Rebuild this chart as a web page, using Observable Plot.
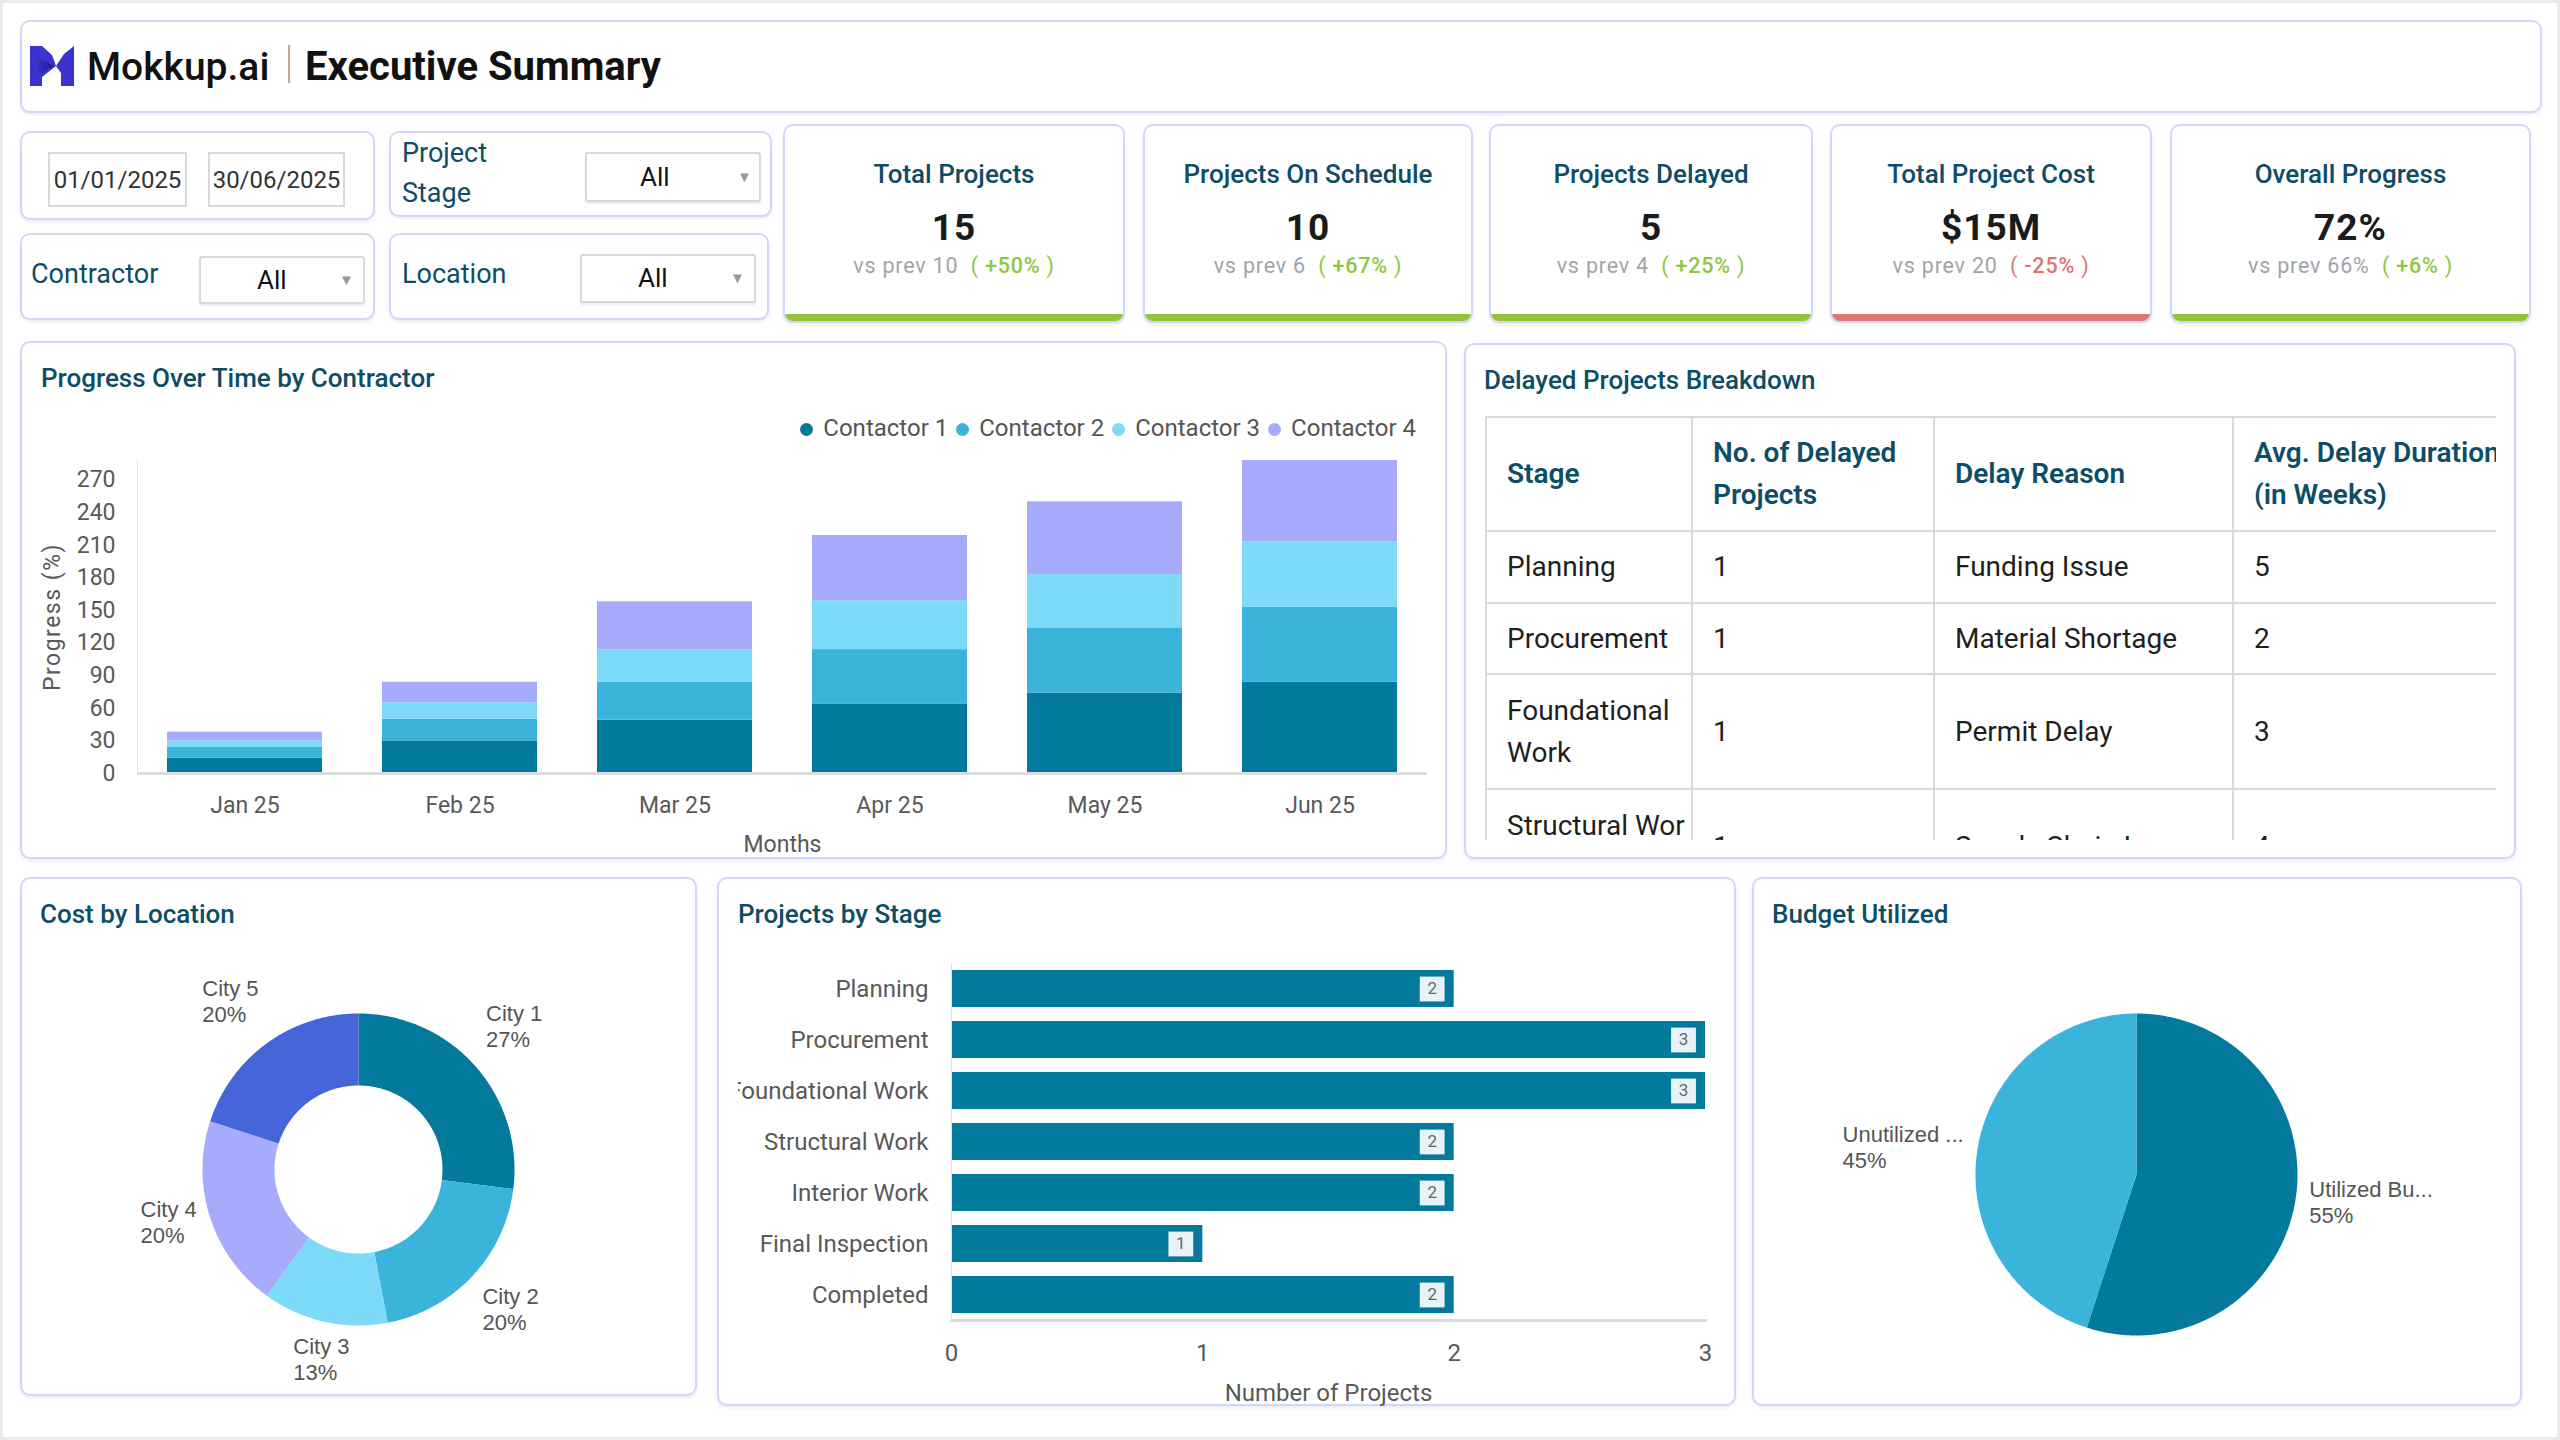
<!DOCTYPE html>
<html><head><meta charset="utf-8">
<script src="https://cdn.jsdelivr.net/npm/d3@7"></script>
<script src="https://cdn.jsdelivr.net/npm/@observablehq/plot@0.6"></script>
<style>
html,body{margin:0;padding:0;background:#fff;}
body{width:2560px;height:1440px;position:relative;overflow:hidden;font-family:Roboto,"Noto Sans",sans-serif;}
.frameedge{position:absolute;left:0;top:0;width:2560px;height:1440px;box-sizing:border-box;border:3px solid #ececec;pointer-events:none;}
.panel{position:absolute;box-sizing:border-box;border:2px solid #d2d6fb;border-radius:10px;background:#fff;box-shadow:0 2px 3px rgba(110,110,170,0.12);}
.title{position:absolute;font-weight:500;font-size:26px;line-height:30px;color:#0d4d66;white-space:nowrap;}
.abs{position:absolute;}
.dd{position:absolute;box-sizing:border-box;border:2px solid #d9d9d9;border-radius:3px;background:#fff;box-shadow:0 2px 2px rgba(0,0,0,0.08);}
.lbl{position:absolute;font-size:27px;color:#0d4d66;line-height:30px;}
.kpi{position:absolute;box-sizing:border-box;border:2px solid #d2d6fb;border-radius:10px;background:#fff;overflow:hidden;box-shadow:0 2px 3px rgba(110,110,170,0.12);}
.kpi .t{position:absolute;left:0;right:0;text-align:center;font-weight:500;font-size:26px;color:#0d4d66;line-height:30px;}
.kpi .v{position:absolute;left:0;right:0;text-align:center;font-weight:700;font-size:37px;color:#1b1b1b;line-height:40px;letter-spacing:1px;}
.kpi .s{position:absolute;left:0;right:0;text-align:center;font-size:21.5px;color:#a0a4aa;line-height:24px;letter-spacing:0.8px;}
.kpi .bar{position:absolute;left:0;right:0;bottom:0;height:7px;}
table{border-collapse:collapse;table-layout:fixed;}
td,th{border:2px solid #dadada;padding:0 0 0 20px;font-size:28px;line-height:42px;text-align:left;vertical-align:middle;overflow:hidden;}
th{font-weight:600;color:#0d4d66;}
td{color:#1f1f1f;font-weight:400;}
.legend{position:absolute;display:flex;align-items:center;gap:8px;font-size:24px;color:#555;white-space:nowrap;}
.legend span.dot{display:inline-block;width:13px;height:13px;border-radius:50%;margin-right:10px;vertical-align:middle;}
</style>
</head>
<body>
<div id="root"></div>
<div class="frameedge"></div>
<script>
// ---------------- DATA ----------------
const months = ["Jan 25", "Feb 25", "Mar 25", "Apr 25", "May 25", "Jun 25"];
const contractors = ["Contactor 1", "Contactor 2", "Contactor 3", "Contactor 4"];
const contractor1 = [14, 30, 49, 64, 74, 84];
const contractor2 = [10, 20, 35, 50, 60, 69];
const contractor3 = [6, 15, 30, 45, 49, 60];
const contractor4 = [8, 19, 44, 60, 67, 75];
const contractorColors = ["#03799c", "#3bb4dc", "#7ddaf8", "#a6acfb"];
const progressTicks = [0, 30, 60, 90, 120, 150, 180, 210, 240, 270];

const cities = ["City 1", "City 2", "City 3", "City 4", "City 5"];
const cityCost = [27, 20, 13, 20, 20];
const cityColors = ["#03799c", "#3bb4dc", "#7ddaf8", "#a6acfb", "#4565d8"];

const stages = ["Planning", "Procurement", "Foundational Work", "Structural Work", "Interior Work", "Final Inspection", "Completed"];
const stageCounts = [2, 3, 3, 2, 2, 1, 2];
const stageTicks = [0, 1, 2, 3];

const budgetNames = ["Utilized Budget", "Unutilized Budget"];
const budgetShare = [55, 45];
const budgetColors = ["#03799c", "#3bb4dc"];

const delayStages = ["Planning", "Procurement", "Foundational Work", "Structural Work"];
const delayCounts = [1, 1, 1, 1];
const delayReasons = ["Funding Issue", "Material Shortage", "Permit Delay", "Supply Chain Issue"];
const delayWeeks = [5, 2, 3, 4];
const tableHeaders = ["Stage", "No. of Delayed Projects", "Delay Reason", "Avg. Delay Duration (in Weeks)"];

const kpiTitles = ["Total Projects", "Projects On Schedule", "Projects Delayed", "Total Project Cost", "Overall Progress"];
const kpiValues = ["15", "10", "5", "$15M", "72%"];
const kpiPrev = ["10", "6", "4", "20", "66%"];
const kpiChange = ["+50%", "+67%", "+25%", "-25%", "+6%"];
const kpiGood = [true, true, true, false, true];

const filterDates = ["01/01/2025", "30/06/2025"];

// ---------------- LAYOUT ----------------
const root = document.getElementById("root");
function el(tag, cls, style, html) {
  const e = document.createElement(tag);
  if (cls) e.className = cls;
  if (style) Object.assign(e.style, style);
  if (html != null) e.innerHTML = html;
  return e;
}
function px(v) { return v + "px"; }
function box(parent, cls, l, t, w, h) {
  const e = el("div", cls, {left: px(l), top: px(t), width: px(w), height: px(h)});
  parent.appendChild(e); return e;
}

// Header
box(root, "panel", 20, 20, 2522, 93);
root.appendChild(el("div", "abs", {left: "30px", top: "46px", width: "44px", height: "40px"},
  `<svg width="44" height="40" viewBox="0 0 44 40"><defs><linearGradient id="lg" x1="0" x2="1"><stop offset="0" stop-color="#3d35d6"/><stop offset="1" stop-color="#1f1a8c"/></linearGradient></defs>
  <path d="M0 0 L12 0 L22 9 L26 20 L12 31 L12 40 L0 40 Z" fill="#3a33d0"/>
  <path d="M4 9 L24 20 L4 31 Z" fill="url(#lg)"/>
  <path d="M44 0 L44 40 L31 40 L31 27 L26 20 L34 8 Z" fill="#3a33d0"/></svg>`));
root.appendChild(el("div", "abs", {left: "87px", top: "44px", fontSize: "39px", fontWeight: "500", color: "#111", lineHeight: "46px"}, "Mokkup.ai"));
root.appendChild(el("div", "abs", {left: "288px", top: "45px", width: "2px", height: "38px", background: "#caa58c"}));
root.appendChild(el("div", "abs", {left: "305px", top: "44px", fontSize: "40px", fontWeight: "700", color: "#111", lineHeight: "46px"}, "Executive Summary"));

// Filters
box(root, "panel", 20, 131, 355, 89);
box(root, "panel", 389, 131, 383, 86);
box(root, "panel", 20, 233, 355, 87);
box(root, "panel", 389, 233, 380, 87);
[[48, 152, 139, 55], [208, 152, 137, 55]].forEach(([l, t, w, h], i) => {
  const d = box(root, "dd", l, t, w, h);
  Object.assign(d.style, {borderRadius: "0", display: "flex", alignItems: "center", justifyContent: "center", fontSize: "24px", color: "#333", boxShadow: "none"});
  d.textContent = filterDates[i];
});
root.appendChild(el("div", "lbl", {left: "402px", top: "138px"}, "Project"));
root.appendChild(el("div", "lbl", {left: "402px", top: "178px"}, "Stage"));
root.appendChild(el("div", "lbl", {left: "31px", top: "259px"}, "Contractor"));
root.appendChild(el("div", "lbl", {left: "402px", top: "259px"}, "Location"));
function dropdown(l, t, w, h, textX, arrowX) {
  const d = box(root, "dd", l, t, w, h);
  d.appendChild(el("div", "abs", {left: px(textX - l), top: "0", lineHeight: px(h - 4), fontSize: "26px", color: "#111"}, "All"));
  d.appendChild(el("div", "abs", {left: px(arrowX - l), top: "0", lineHeight: px(h - 4), fontSize: "15px", color: "#999"}, "▼"));
}
dropdown(585, 152, 176, 50, 638, 735);
dropdown(199, 256, 166, 48, 255, 337);
dropdown(580, 254, 176, 49, 636, 728);

// KPI cards
const kpiX = [[783, 1125], [1143, 1473], [1489, 1813], [1830, 2152], [2170, 2531]];
kpiTitles.forEach((t, i) => {
  const [x0, x1] = kpiX[i];
  const c = box(root, "kpi", x0, 124, x1 - x0, 199);
  const col = kpiGood[i] ? "#8dc63f" : "#e07272";
  c.appendChild(el("div", "t", {top: "33px"}, t));
  c.appendChild(el("div", "v", {top: "82px"}, kpiValues[i]));
  c.appendChild(el("div", "s", {top: "128px"}, `vs prev ${kpiPrev[i]}&nbsp;&nbsp;<span style="color:${col}">( <b style="font-weight:500">${kpiChange[i]}</b> )</span>`));
  c.appendChild(el("div", "bar", {background: kpiGood[i] ? "#94c23a" : "#e07474"}));
});

// Panels
box(root, "panel", 20, 341, 1427, 518);
box(root, "panel", 1464, 343, 1052, 516);
box(root, "panel", 20, 877, 677, 519);
box(root, "panel", 717, 877, 1019, 529);
box(root, "panel", 1752, 877, 770, 529);

root.appendChild(el("div", "title", {left: "41px", top: "363px"}, "Progress Over Time by Contractor"));
root.appendChild(el("div", "title", {left: "1484px", top: "365px"}, "Delayed Projects Breakdown"));
root.appendChild(el("div", "title", {left: "40px", top: "899px"}, "Cost by Location"));
root.appendChild(el("div", "title", {left: "738px", top: "899px"}, "Projects by Stage"));
root.appendChild(el("div", "title", {left: "1772px", top: "899px"}, "Budget Utilized"));

// Legend for progress chart
const legend = el("div", "legend", {right: px(2560 - 1416), top: "413px", height: "30px"});
contractors.forEach((c, i) => {
  legend.appendChild(el("span", null, null, `<span class="dot" style="background:${contractorColors[i]}"></span>${c}`));
});
root.appendChild(legend);

// ---------------- CHARTS ----------------
const axisStyle = {fontFamily: "Roboto, sans-serif", fontSize: "23px", color: "#595959", background: "transparent"};

// Progress stacked bars
const series = [contractor1, contractor2, contractor3, contractor4];
const progressData = months.flatMap((m, i) => contractors.map((c, j) => ({month: m, contractor: c, value: series[j][i]})));
const progressChart = Plot.plot({
  width: 1420, height: 425,
  marginLeft: 117, marginRight: 13, marginTop: 20, marginBottom: 92,
  style: axisStyle,
  x: {domain: months, paddingInner: 0.28, paddingOuter: 0.14, label: null},
  y: {domain: [0, 288], label: null},
  color: {domain: contractors, range: contractorColors},
  marks: [
    Plot.barY(progressData, {x: "month", y: "value", fill: "contractor"}),
    Plot.ruleY([0], {stroke: "#dcdcdc", strokeWidth: 3}),
    Plot.frame({anchor: "left", stroke: "#e3e3e3"}),
    Plot.axisX({tickSize: 0, tickPadding: 23, label: "Months", labelAnchor: "center", labelOffset: 78, labelArrow: false}),
    Plot.axisY({ticks: progressTicks, tickSize: 0, tickPadding: 22, label: "Progress (%)", labelAnchor: "center", labelOffset: 94, labelArrow: false})
  ]
});
Object.assign(progressChart.style, {position: "absolute", left: "20px", top: "440px"});
progressChart.querySelectorAll("text").forEach(t => { if (t.textContent === "Progress (%)") t.setAttribute("letter-spacing", "1.5"); });
root.appendChild(progressChart);

// Projects by stage horizontal bars
const stageData = stages.map((s, i) => ({stage: s, count: stageCounts[i]}));
const stageChart = Plot.plot({
  width: 990, height: 462,
  marginLeft: 213, marginRight: 23, marginTop: 13, marginBottom: 92,
  style: Object.assign({}, axisStyle, {overflow: "hidden", fontSize: "24px"}),
  x: {domain: [0, 3], label: null},
  y: {domain: stages, paddingInner: 0.28, paddingOuter: 0.14, label: null},
  marks: [
    Plot.barX(stageData, {y: "stage", x: "count", fill: "#03799c"}),
    Plot.frame({anchor: "bottom", stroke: "#dcdcdc", strokeWidth: 3}),
    Plot.ruleX([0], {stroke: "#e3e3e3"}),
    Plot.dot(stageData, {x: "count", y: "stage", symbol: "square", r: 14, fill: "#e8f3f7", dx: -22}),
    Plot.text(stageData, {x: "count", y: "stage", text: "count", dx: -22, fill: "#666", fontSize: 17}),
    Plot.axisX({ticks: stageTicks, tickFormat: "d", tickSize: 0, tickPadding: 23, label: "Number of Projects", labelAnchor: "center", labelOffset: 80, labelArrow: false}),
    Plot.axisY({tickSize: 0, tickPadding: 23, label: null})
  ]
});
Object.assign(stageChart.style, {position: "absolute", left: "738px", top: "950px"});
root.appendChild(stageChart);

// Pie / donut helpers (geometry derived from d3.pie angles, drawn via Plot.geo)
const labelFont = "22px 'Liberation Sans'";
const measureCtx = document.createElement("canvas").getContext("2d");
measureCtx.font = labelFont;
function sectorFeature(a0, a1, r0, r1, props) {
  const n = Math.max(4, Math.ceil((a1 - a0) / 0.01));
  const ang = d3.range(n + 1).map(i => a0 + (a1 - a0) * i / n);
  const outer = ang.map(a => [r1 * Math.sin(a), -r1 * Math.cos(a)]);
  const inner = r0 > 0 ? ang.slice().reverse().map(a => [r0 * Math.sin(a), -r0 * Math.cos(a)]) : [[0, 0]];
  const ring = outer.concat(inner);
  ring.push(ring[0]);
  return {type: "Feature", properties: props, geometry: {type: "Polygon", coordinates: [ring]}};
}
function pieChart({names, values, colors, r0, r1, width, height, labelFn, topShift}) {
  const arcs = d3.pie().sort(null).value(d => d)(values);
  const shapes = arcs.map((a, i) => sectorFeature(a.startAngle, a.endAngle, r0, r1, {name: names[i]}));
  const lr = r1 + 14;
  const labels = arcs.map((a, i) => {
    const m = (a.startAngle + a.endAngle) / 2;
    const s = Math.sin(m), c = Math.cos(m);
    const l1 = labelFn(names[i]);
    const l2 = `${Math.round(values[i] / d3.sum(values) * 100)}%`;
    const w = Math.max(measureCtx.measureText(l1).width, measureCtx.measureText(l2).width);
    const f = s > 0.3 ? 0 : s < -0.3 ? 1 : 0.5;
    const la = c > 0.4 ? "bottom" : c < -0.4 ? "top" : "middle";
    return {x: lr * s - f * w, y: -lr * c + (la === "bottom" ? -topShift : 0), text: `${l1}\n${l2}`, la};
  });
  const textMarks = ["top", "middle", "bottom"].map(la => labels.filter(d => d.la === la)).filter(sub => sub.length).map(sub =>
    Plot.text(sub, {x: "x", y: "y", text: "text", textAnchor: "start", lineAnchor: sub[0].la, lineHeight: 1.18, fill: "#555", fontSize: 22, fontFamily: "'Liberation Sans', Arial, sans-serif"}));
  return Plot.plot({
    width, height, margin: 0,
    style: {background: "transparent", overflow: "visible"},
    projection: {type: "identity", domain: {type: "MultiPoint", coordinates: [[-width / 2, -height / 2], [width / 2, height / 2]]}},
    color: {domain: names, range: colors},
    marks: [
      Plot.geo(shapes, {fill: d => d.properties.name}),
      ...textMarks
    ]
  });
}

const donut = pieChart({names: cities, values: cityCost, colors: cityColors, r0: 84, r1: 156, width: 640, height: 440, labelFn: n => n, topShift: 10});
Object.assign(donut.style, {position: "absolute", left: "38px", top: "949px"});
root.appendChild(donut);

const trunc = n => n.length > 11 ? n.slice(0, 11) + "..." : n;
const pie = pieChart({names: budgetNames, values: budgetShare, colors: budgetColors, r0: 0, r1: 161, width: 700, height: 440, labelFn: trunc, topShift: 0});
Object.assign(pie.style, {position: "absolute", left: "1786px", top: "954px"});
root.appendChild(pie);

// Delayed projects table
const wrap = el("div", "abs", {left: "1485px", top: "416px", width: "1011px", height: "424px", overflow: "hidden"});
const colW = [206, 242, 299, 300];
const rowH = [114, 72, 71, 115, 115];
let html = `<table style="width:${d3.sum(colW)}px"><colgroup>${colW.map(w => `<col style="width:${w}px">`).join("")}</colgroup>`;
html += `<tr style="height:${rowH[0]}px">${tableHeaders.map((h, i) => `<th style="${i === 3 ? "white-space:nowrap" : ""}">${i === 3 ? "Avg. Delay Duration<br>(in Weeks)" : h}</th>`).join("")}</tr>`;
delayStages.forEach((s, i) => {
  const brk = i === 3 ? "word-break:break-all;" : "";
  const ws = i === 3 ? "white-space:nowrap;" : "";
  html += `<tr style="height:${rowH[i + 1]}px"><td style="${brk}">${s}</td><td>${delayCounts[i]}</td><td style="${ws}">${delayReasons[i]}</td><td>${delayWeeks[i]}</td></tr>`;
});
html += `</table>`;
wrap.innerHTML = html;
root.appendChild(wrap);
</script>
</body></html>
